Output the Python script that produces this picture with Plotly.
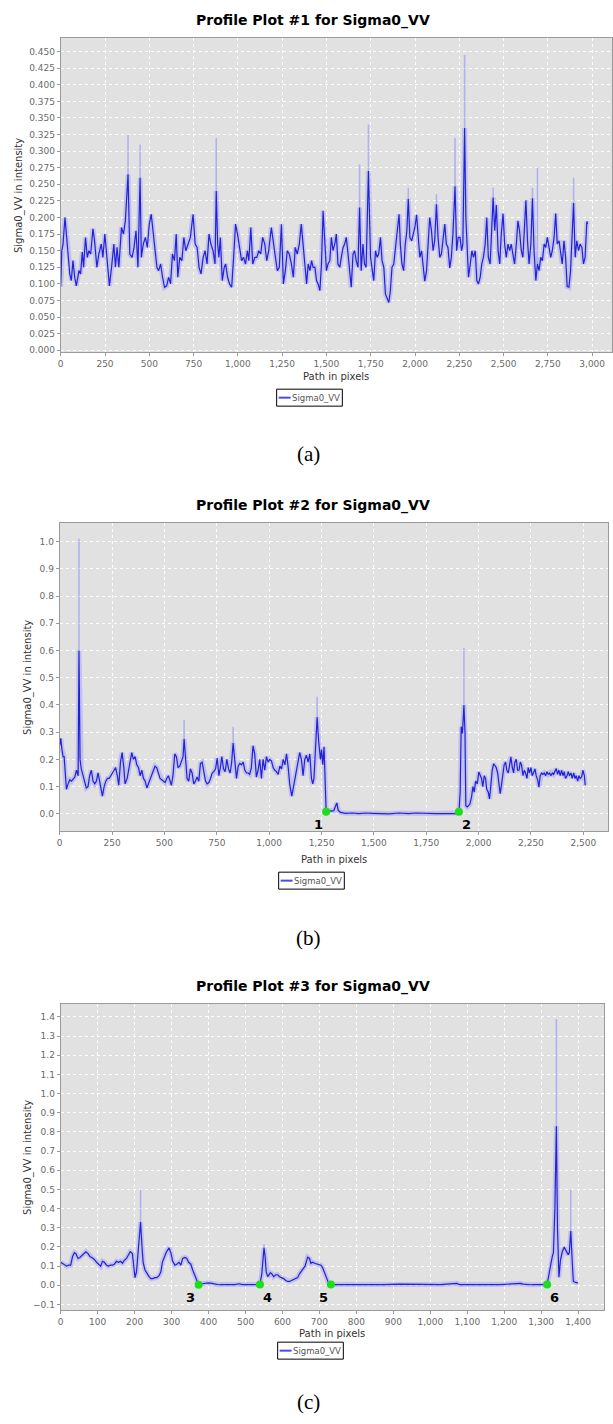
import plotly.graph_objects as go

# ---------------------------------------------------------------------------
# Profile data: (path position in pixels, Sigma0_VV intensity)
# ---------------------------------------------------------------------------
profile1 = [
    (0, 0.096), (6, 0.15), (13, 0.16), (24, 0.20), (32, 0.175), (41, 0.15), (51, 0.115), (60, 0.105),
    (69, 0.135), (79, 0.11), (88, 0.097), (103, 0.12), (112, 0.115), (122, 0.148), (129, 0.125), (140, 0.17),
    (150, 0.14), (159, 0.15), (169, 0.145), (182, 0.183), (191, 0.165), (204, 0.125), (215, 0.145), (229, 0.16),
    (238, 0.14), (249, 0.175), (258, 0.15), (266, 0.12), (275, 0.097), (287, 0.125), (300, 0.16), (309, 0.125),
    (318, 0.155), (328, 0.125), (343, 0.185), (354, 0.175), (365, 0.195), (380, 0.265), (390, 0.145), (403, 0.14),
    (414, 0.155), (425, 0.18), (436, 0.125), (448, 0.26), (455, 0.14), (466, 0.16), (478, 0.17), (489, 0.155),
    (500, 0.19), (511, 0.205), (523, 0.175), (530, 0.15), (543, 0.125), (553, 0.12), (564, 0.13), (575, 0.11),
    (586, 0.095), (598, 0.097), (609, 0.11), (620, 0.10), (631, 0.145), (642, 0.135), (652, 0.175), (661, 0.11),
    (672, 0.14), (684, 0.135), (695, 0.17), (706, 0.15), (717, 0.16), (732, 0.17), (747, 0.205), (759, 0.16),
    (770, 0.155), (781, 0.125), (792, 0.115), (804, 0.14), (815, 0.15), (826, 0.13), (837, 0.175), (848, 0.16),
    (860, 0.15), (871, 0.13), (878, 0.24), (886, 0.16), (893, 0.14), (901, 0.17), (912, 0.105), (923, 0.125),
    (931, 0.13), (942, 0.11), (953, 0.10), (965, 0.095), (976, 0.14), (987, 0.19), (998, 0.175), (1010, 0.15),
    (1021, 0.135), (1032, 0.14), (1043, 0.13), (1054, 0.15), (1062, 0.135), (1073, 0.185), (1084, 0.13), (1096, 0.14),
    (1107, 0.14), (1118, 0.15), (1129, 0.145), (1140, 0.17), (1152, 0.16), (1163, 0.135), (1174, 0.15), (1189, 0.185),
    (1201, 0.165), (1212, 0.14), (1223, 0.12), (1234, 0.125), (1246, 0.19), (1257, 0.10), (1268, 0.12), (1279, 0.15),
    (1290, 0.145), (1302, 0.13), (1313, 0.11), (1324, 0.155), (1335, 0.145), (1347, 0.16), (1358, 0.19), (1369, 0.15),
    (1378, 0.13), (1388, 0.10), (1397, 0.13), (1407, 0.12), (1416, 0.135), (1425, 0.125), (1435, 0.125), (1444, 0.105),
    (1453, 0.10), (1463, 0.09), (1472, 0.13), (1481, 0.21), (1491, 0.15), (1500, 0.12), (1509, 0.13), (1519, 0.135),
    (1528, 0.17), (1537, 0.15), (1547, 0.16), (1556, 0.175), (1565, 0.13), (1575, 0.125), (1584, 0.14), (1594, 0.155),
    (1603, 0.16), (1612, 0.17), (1622, 0.145), (1631, 0.12), (1640, 0.095), (1650, 0.145), (1659, 0.15), (1668, 0.135),
    (1678, 0.125), (1687, 0.215), (1696, 0.12), (1706, 0.16), (1715, 0.13), (1724, 0.125), (1737, 0.27), (1749, 0.14),
    (1758, 0.12), (1767, 0.105), (1777, 0.15), (1786, 0.14), (1795, 0.145), (1805, 0.17), (1814, 0.135), (1824, 0.125),
    (1833, 0.085), (1842, 0.078), (1852, 0.072), (1861, 0.09), (1870, 0.125), (1880, 0.13), (1889, 0.15), (1898, 0.175),
    (1910, 0.205), (1917, 0.16), (1926, 0.13), (1936, 0.12), (1945, 0.16), (1954, 0.18), (1962, 0.228), (1971, 0.17),
    (1981, 0.165), (1990, 0.175), (1999, 0.185), (2009, 0.204), (2018, 0.17), (2027, 0.14), (2037, 0.15), (2046, 0.13),
    (2055, 0.104), (2065, 0.12), (2074, 0.16), (2083, 0.2), (2093, 0.18), (2102, 0.15), (2111, 0.165), (2121, 0.22),
    (2130, 0.17), (2140, 0.14), (2149, 0.145), (2158, 0.17), (2168, 0.19), (2177, 0.16), (2186, 0.155), (2196, 0.124),
    (2205, 0.14), (2214, 0.175), (2226, 0.247), (2235, 0.15), (2244, 0.17), (2254, 0.17), (2263, 0.15), (2270, 0.16),
    (2280, 0.335), (2287, 0.2), (2295, 0.14), (2302, 0.11), (2312, 0.13), (2321, 0.15), (2330, 0.14), (2340, 0.15),
    (2349, 0.105), (2358, 0.1), (2368, 0.11), (2377, 0.13), (2386, 0.14), (2396, 0.16), (2405, 0.2), (2414, 0.14),
    (2424, 0.13), (2433, 0.175), (2441, 0.23), (2450, 0.18), (2459, 0.219), (2469, 0.15), (2478, 0.13), (2487, 0.175),
    (2497, 0.206), (2506, 0.16), (2515, 0.14), (2525, 0.16), (2534, 0.15), (2543, 0.16), (2553, 0.14), (2562, 0.13),
    (2572, 0.16), (2581, 0.195), (2590, 0.18), (2600, 0.15), (2609, 0.14), (2618, 0.18), (2626, 0.226), (2635, 0.165),
    (2644, 0.13), (2654, 0.16), (2663, 0.229), (2672, 0.15), (2682, 0.105), (2691, 0.13), (2700, 0.12), (2710, 0.14),
    (2719, 0.135), (2729, 0.16), (2738, 0.155), (2747, 0.17), (2757, 0.155), (2766, 0.14), (2775, 0.15), (2785, 0.17),
    (2794, 0.206), (2803, 0.16), (2813, 0.165), (2822, 0.15), (2831, 0.13), (2841, 0.165), (2850, 0.14), (2859, 0.096),
    (2869, 0.095), (2878, 0.12), (2887, 0.18), (2895, 0.222), (2904, 0.14), (2913, 0.165), (2923, 0.15), (2932, 0.16),
    (2942, 0.155), (2951, 0.13), (2960, 0.14), (2970, 0.194), (2974, 0.19),
]

profile2 = [
    (0, 0.25), (5, 0.277), (10, 0.24), (16, 0.21), (21, 0.21), (27, 0.13), (32, 0.09), (40, 0.11),
    (48, 0.125), (56, 0.12), (64, 0.13), (72, 0.135), (80, 0.16), (88, 0.14), (92, 0.6), (97, 0.2),
    (103, 0.165), (111, 0.14), (119, 0.115), (127, 0.095), (135, 0.1), (143, 0.14), (151, 0.16), (159, 0.12),
    (167, 0.11), (175, 0.12), (183, 0.15), (191, 0.12), (199, 0.08), (204, 0.065), (212, 0.1), (220, 0.12),
    (228, 0.13), (236, 0.13), (244, 0.14), (252, 0.15), (260, 0.16), (267, 0.17), (275, 0.14), (282, 0.105),
    (290, 0.19), (298, 0.225), (306, 0.17), (312, 0.11), (322, 0.13), (330, 0.16), (338, 0.19), (344, 0.225),
    (352, 0.2), (360, 0.21), (368, 0.18), (376, 0.17), (384, 0.14), (392, 0.16), (400, 0.13), (408, 0.12),
    (416, 0.095), (423, 0.11), (431, 0.125), (439, 0.14), (447, 0.155), (455, 0.175), (463, 0.17), (471, 0.15),
    (479, 0.13), (487, 0.125), (495, 0.12), (503, 0.115), (511, 0.13), (519, 0.14), (527, 0.12), (533, 0.105),
    (541, 0.14), (549, 0.22), (557, 0.21), (565, 0.17), (573, 0.175), (581, 0.19), (589, 0.21), (594, 0.275),
    (602, 0.18), (608, 0.13), (616, 0.12), (624, 0.165), (632, 0.15), (640, 0.11), (648, 0.12), (656, 0.135),
    (664, 0.12), (672, 0.185), (680, 0.19), (688, 0.16), (696, 0.12), (704, 0.11), (712, 0.115), (720, 0.13),
    (728, 0.15), (736, 0.155), (744, 0.165), (752, 0.205), (760, 0.14), (767, 0.17), (774, 0.21), (782, 0.165),
    (790, 0.155), (798, 0.2), (806, 0.165), (814, 0.15), (821, 0.19), (828, 0.26), (836, 0.19), (844, 0.13),
    (852, 0.175), (860, 0.185), (868, 0.18), (876, 0.19), (884, 0.16), (892, 0.15), (900, 0.15), (907, 0.145),
    (915, 0.17), (923, 0.25), (931, 0.22), (939, 0.135), (947, 0.16), (955, 0.2), (963, 0.13), (971, 0.2),
    (979, 0.16), (987, 0.21), (995, 0.19), (1003, 0.2), (1011, 0.195), (1019, 0.17), (1027, 0.16), (1035, 0.155),
    (1043, 0.145), (1051, 0.175), (1059, 0.165), (1067, 0.2), (1075, 0.18), (1083, 0.22), (1091, 0.17), (1098, 0.11),
    (1108, 0.065), (1114, 0.09), (1122, 0.12), (1130, 0.16), (1138, 0.2), (1146, 0.225), (1154, 0.2), (1162, 0.14),
    (1170, 0.2), (1178, 0.215), (1186, 0.19), (1194, 0.22), (1202, 0.13), (1208, 0.11), (1214, 0.13), (1221, 0.22),
    (1229, 0.355), (1237, 0.26), (1245, 0.2), (1250, 0.236), (1256, 0.18), (1262, 0.246), (1266, 0.14), (1272, 0.01),
    (1285, 0.012), (1300, 0.01), (1309, 0.012), (1317, 0.025), (1323, 0.04), (1330, 0.012), (1341, 0.005), (1365, 0.002),
    (1397, 0.003), (1428, 0.001), (1460, 0.003), (1492, 0.002), (1524, 0.002), (1572, 0.0), (1619, 0.003), (1667, 0.001),
    (1699, 0.003), (1747, 0.001), (1795, 0.001), (1842, 0.001), (1890, 0.001), (1906, 0.004), (1912, 0.08), (1917, 0.32),
    (1923, 0.295), (1930, 0.4), (1935, 0.3), (1939, 0.03), (1946, 0.025), (1958, 0.035), (1966, 0.06), (1973, 0.1),
    (1979, 0.08), (1986, 0.12), (1994, 0.11), (2001, 0.154), (2009, 0.14), (2014, 0.13), (2020, 0.1), (2027, 0.14),
    (2033, 0.13), (2039, 0.09), (2046, 0.08), (2052, 0.055), (2058, 0.1), (2065, 0.16), (2072, 0.184), (2078, 0.175),
    (2084, 0.17), (2091, 0.15), (2097, 0.12), (2103, 0.074), (2110, 0.11), (2116, 0.16), (2122, 0.18), (2129, 0.19),
    (2135, 0.16), (2142, 0.15), (2148, 0.19), (2154, 0.209), (2161, 0.17), (2167, 0.15), (2173, 0.19), (2180, 0.2),
    (2186, 0.16), (2193, 0.16), (2199, 0.19), (2205, 0.18), (2212, 0.14), (2218, 0.16), (2224, 0.15), (2231, 0.13),
    (2237, 0.17), (2243, 0.15), (2250, 0.17), (2256, 0.14), (2262, 0.15), (2269, 0.165), (2275, 0.14), (2282, 0.125),
    (2288, 0.098), (2294, 0.14), (2301, 0.15), (2307, 0.145), (2313, 0.15), (2320, 0.14), (2326, 0.155), (2332, 0.145),
    (2339, 0.15), (2345, 0.14), (2352, 0.15), (2358, 0.145), (2364, 0.155), (2371, 0.166), (2377, 0.145), (2383, 0.16),
    (2390, 0.14), (2396, 0.16), (2403, 0.14), (2409, 0.155), (2415, 0.13), (2422, 0.14), (2428, 0.155), (2434, 0.14),
    (2441, 0.15), (2447, 0.13), (2454, 0.15), (2460, 0.13), (2466, 0.14), (2473, 0.12), (2479, 0.14), (2485, 0.13),
    (2492, 0.135), (2498, 0.16), (2505, 0.14), (2509, 0.105),
]

profile3 = [
    (0, 0.12), (5, 0.115), (11, 0.105), (16, 0.10), (22, 0.105), (27, 0.105), (32, 0.15), (37, 0.17),
    (41, 0.165), (47, 0.14), (52, 0.145), (57, 0.155), (63, 0.165), (68, 0.175), (74, 0.165), (79, 0.15),
    (84, 0.145), (91, 0.135), (97, 0.12), (102, 0.11), (108, 0.10), (113, 0.125), (118, 0.12), (124, 0.105),
    (129, 0.10), (135, 0.105), (140, 0.105), (145, 0.11), (151, 0.125), (156, 0.12), (162, 0.125), (167, 0.115),
    (172, 0.13), (178, 0.14), (183, 0.16), (188, 0.175), (194, 0.165), (197, 0.10), (201, 0.04), (205, 0.07),
    (208, 0.15), (212, 0.25), (216, 0.33), (220, 0.2), (223, 0.12), (228, 0.08), (233, 0.06), (239, 0.045),
    (244, 0.035), (249, 0.035), (255, 0.04), (260, 0.04), (266, 0.05), (271, 0.07), (275, 0.12), (280, 0.15),
    (285, 0.17), (293, 0.195), (298, 0.17), (303, 0.125), (309, 0.105), (314, 0.11), (320, 0.12), (325, 0.105),
    (330, 0.14), (336, 0.145), (341, 0.14), (346, 0.12), (352, 0.11), (357, 0.08), (363, 0.05), (368, 0.02),
    (373, 0.003), (382, 0.008), (391, 0.012), (400, 0.013), (409, 0.01), (418, 0.005), (427, 0.003), (436, 0.004),
    (454, 0.004), (472, 0.004), (483, 0.008), (490, 0.004), (508, 0.004), (526, 0.004), (539, 0.004), (544, 0.06),
    (547, 0.15), (550, 0.195), (553, 0.15), (556, 0.07), (560, 0.045), (564, 0.055), (567, 0.065), (571, 0.06),
    (576, 0.045), (582, 0.055), (587, 0.055), (592, 0.045), (598, 0.04), (603, 0.035), (609, 0.025), (614, 0.02),
    (619, 0.02), (625, 0.025), (630, 0.03), (635, 0.035), (641, 0.04), (646, 0.06), (652, 0.077), (657, 0.09),
    (661, 0.1), (668, 0.147), (673, 0.14), (677, 0.115), (682, 0.12), (687, 0.115), (693, 0.11), (698, 0.11),
    (704, 0.105), (709, 0.09), (715, 0.06), (720, 0.03), (725, 0.01), (731, 0.004), (742, 0.004), (769, 0.004),
    (813, 0.002), (819, 0.004), (876, 0.004), (917, 0.006), (966, 0.004), (1028, 0.004), (1072, 0.01), (1078, 0.004),
    (1127, 0.004), (1179, 0.002), (1190, 0.004), (1244, 0.01), (1251, 0.006), (1271, 0.003), (1280, 0.004), (1316, 0.004),
    (1320, 0.04), (1325, 0.1), (1330, 0.15), (1333, 0.17), (1337, 0.4), (1341, 0.83), (1344, 0.3), (1348, 0.042),
    (1352, 0.13), (1357, 0.175), (1362, 0.199), (1367, 0.18), (1373, 0.16), (1376, 0.17), (1380, 0.283), (1384, 0.12),
    (1387, 0.02), (1393, 0.015), (1400, 0.012),
]

# Upper envelope reached at isolated samples: (position, max intensity)
spikes1 = [(380, 0.325), (448, 0.31), (878, 0.32), (1687, 0.28), (1737, 0.34), (1962, 0.245),
           (2121, 0.235), (2226, 0.32), (2280, 0.445), (2441, 0.245), (2663, 0.245), (2691, 0.275),
           (2895, 0.26)]
spikes2 = [(92, 1.01), (594, 0.345), (828, 0.32), (1229, 0.43), (1930, 0.61)]
spikes3 = [(216, 0.5), (550, 0.215), (1341, 1.387), (1380, 0.5)]

# Numbered reference points along the paths
points2_x = [1272, 1906]
points2_y = [0.008, 0.008]
points2_lbl = ["1", "2"]
points3_x = [373, 539, 731, 1316]
points3_y = [0.003, 0.004, 0.004, 0.004]
points3_lbl = ["3", "4", "5", "6"]

titles = ["Profile Plot #1 for Sigma0_VV", "Profile Plot #2 for Sigma0_VV", "Profile Plot #3 for Sigma0_VV"]
captions = ["(a)", "(b)", "(c)"]
series_name = "Sigma0_VV"
x_title = "Path in pixels"
y_title = "Sigma0_VV in intensity"

# ---------------------------------------------------------------------------
W, H = 613, 1424


def fx(px):
    return px / W


def fy(py):
    return 1 - py / H


LINE = "#2121d8"
BAND = "rgba(110,110,255,0.28)"
SPIKE = "rgba(120,120,255,0.45)"
GREEN = "#19e019"
BG = "#e1e1e1"
FRAME = "#9a9a9a"
TICKC = "#6a6a6a"
FONT = "DejaVu Sans"

panels = [
    dict(data=profile1, spikes=spikes1, pts=None,
         box=(58, 612, 38, 353), xr=(0, 3112), yr=(-0.003, 0.4706), xd=250, yd=0.025, yf=".3f",
         title_y=21, ytitle_x=16, xtitle_y=377, legend=(275, 341, 390, 407), cap_y=455),
    dict(data=profile2, spikes=spikes2, pts=(points2_x, points2_y, points2_lbl, [-8, 8]),
         box=(57, 608, 524, 833), xr=(0, 2618), yr=(-0.064, 1.0686), xd=250, yd=0.1, yf=".1f",
         title_y=507, ytitle_x=25, xtitle_y=861, legend=(277, 343, 874, 891), cap_y=940),
    dict(data=profile3, spikes=spikes3, pts=(points3_x, points3_y, points3_lbl, [-8, 8, -7, 7]),
         box=(58, 604, 1006, 1313), xr=(0, 1470), yr=(-0.130, 1.4677), xd=100, yd=0.1, yf=".1f",
         title_y=989, ytitle_x=25, xtitle_y=1336, legend=(276, 342, 1345, 1362), cap_y=1405),
]

fig = go.Figure()
layout = {}
shapes = []
annotations = []

for i, p in enumerate(panels, start=1):
    sfx = "" if i == 1 else str(i)
    xa, ya = "x" + sfx, "y" + sfx
    xs = [d[0] for d in p["data"]]
    ys = [d[1] for d in p["data"]]
    lookup = dict(p["data"])

    # soft envelope band around the profile
    fig.add_trace(go.Scatter(x=xs, y=ys, mode="lines", xaxis=xa, yaxis=ya,
                             line=dict(color=BAND, width=5), hoverinfo="skip", showlegend=False))
    # isolated envelope maxima
    sx, sy = [], []
    for px_, hi in p["spikes"]:
        sx += [px_, px_, None]
        sy += [lookup[px_], hi, None]
    fig.add_trace(go.Scatter(x=sx, y=sy, mode="lines", xaxis=xa, yaxis=ya,
                             line=dict(color=SPIKE, width=1.6), hoverinfo="skip", showlegend=False))
    # profile line
    fig.add_trace(go.Scatter(x=xs, y=ys, mode="lines", xaxis=xa, yaxis=ya, name=series_name,
                             line=dict(color=LINE, width=1.2), showlegend=False))
    # reference points
    if p["pts"]:
        px_list, py_list, lbls, offs = p["pts"]
        fig.add_trace(go.Scatter(x=px_list, y=py_list, mode="markers", xaxis=xa, yaxis=ya,
                                 marker=dict(color=GREEN, size=8, line=dict(width=0)),
                                 hoverinfo="skip", showlegend=False))
        for xv, yv, t, dx in zip(px_list, py_list, lbls, offs):
            annotations.append(dict(x=xv, y=yv, xref=xa, yref=ya, text=t, showarrow=False,
                                    xshift=dx, yshift=-13,
                                    font=dict(family=FONT, size=13, color="black", weight="bold")))

    l, r, t, b = p["box"]
    common = dict(showgrid=True, gridcolor="white", gridwidth=1, griddash="dot",
                  showline=True, linecolor=FRAME, linewidth=1, mirror=True,
                  ticks="outside", ticklen=3, tickcolor=FRAME,
                  tickfont=dict(family=FONT, size=9, color=TICKC), zeroline=False)
    layout["xaxis" + sfx] = dict(domain=[fx(l), fx(r)], range=list(p["xr"]), anchor=ya,
                                 tick0=0, dtick=p["xd"], tickformat=",d", **common)
    layout["yaxis" + sfx] = dict(domain=[fy(b), fy(t)], range=list(p["yr"]), anchor=xa,
                                 tick0=0, dtick=p["yd"], tickformat=p["yf"], **common)

    cx = (l + r) / 2
    # chart title
    annotations.append(dict(x=fx(311.5), y=fy(p["title_y"]), xref="paper", yref="paper",
                            text=titles[i - 1], showarrow=False, xanchor="center", yanchor="middle",
                            font=dict(family=FONT, size=14, color="black", weight="bold")))
    # axis titles
    annotations.append(dict(x=fx(cx), y=fy(p["xtitle_y"]), xref="paper", yref="paper",
                            text=x_title, showarrow=False, xanchor="center", yanchor="middle",
                            font=dict(family=FONT, size=10, color="#333333")))
    annotations.append(dict(x=fx(p["ytitle_x"]), y=fy((t + b) / 2), xref="paper", yref="paper",
                            text=y_title, showarrow=False, textangle=-90,
                            xanchor="center", yanchor="middle",
                            font=dict(family=FONT, size=10, color="#333333")))
    # legend box
    lx0, lx1, ly0, ly1 = p["legend"]
    shapes.append(dict(type="rect", xref="paper", yref="paper",
                       x0=fx(lx0), x1=fx(lx1), y0=fy(ly1), y1=fy(ly0),
                       line=dict(color="black", width=1), fillcolor="white", layer="above"))
    lyc = (ly0 + ly1) / 2
    shapes.append(dict(type="line", xref="paper", yref="paper",
                       x0=fx(lx0 + 2), x1=fx(lx0 + 14), y0=fy(lyc), y1=fy(lyc),
                       line=dict(color="#4a4aee", width=2), layer="above"))
    annotations.append(dict(x=fx(lx0 + 13), y=fy(lyc), xref="paper", yref="paper",
                            text=series_name, showarrow=False, xanchor="left", yanchor="middle",
                            font=dict(family=FONT, size=8.5, color="#555555")))
    # panel caption
    annotations.append(dict(x=fx(307), y=fy(p["cap_y"]), xref="paper", yref="paper",
                            text=captions[i - 1], showarrow=False, xanchor="center", yanchor="middle",
                            font=dict(family="Liberation Serif", size=21, color="black")))

fig.update_layout(width=W, height=H, margin=dict(l=0, r=0, t=0, b=0),
                  paper_bgcolor="white", plot_bgcolor=BG, showlegend=False,
                  shapes=shapes, annotations=annotations, **layout)

fig.write_html("out.html")
